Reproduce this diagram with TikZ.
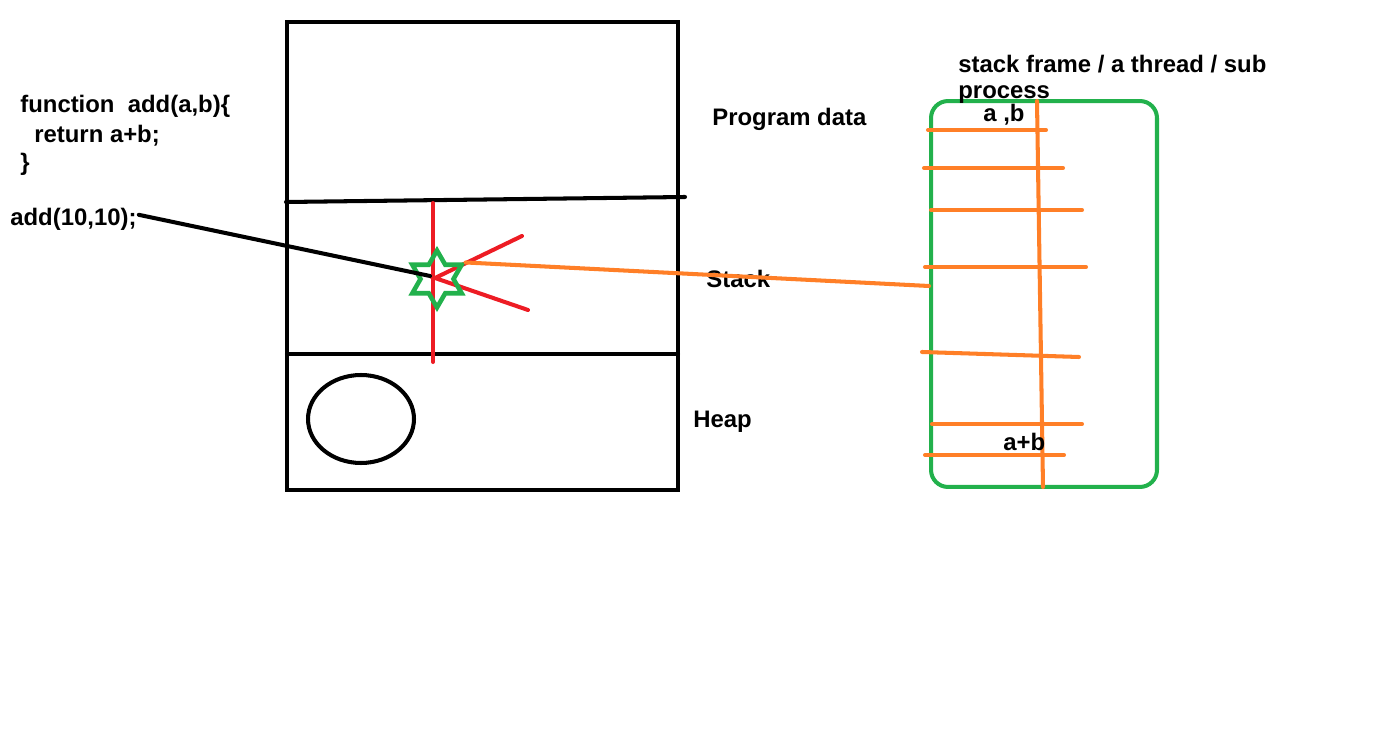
\documentclass[tikz,border=0pt]{standalone}
\usepackage{fontspec}
\setmainfont{Liberation Sans}
\usetikzlibrary{shapes.geometric}
\usetikzlibrary{calc}
\definecolor{verde}{HTML}{22B14C}
\definecolor{laranja}{HTML}{FF7F27}
\definecolor{vermelho}{HTML}{ED1C24}
\tikzset{traco/.style={color=#1,line width=2.3pt,line cap=round},traco/.default=black}
\tikzset{rotulo/.style={anchor=base west,inner sep=0pt,
	font=\fontsize{13.6}{16}\selectfont\bfseries}}

\begin{document}
\begin{tikzpicture}[x=0.02cm,y=-0.02cm]

	\useasboundingbox (0,0) rectangle (1387,736);

	% O codigo da funcao
	\node [rotulo] (funcao) at (20,113) {function\ \ add(a,b)\{};
	\node [rotulo] (retorno) at (34,143) {return a+b;};
	\node [rotulo] (fecho) at (20,171) {\}};
	\node [rotulo] (chamada) at (10,226) {add(10,10);};

	% A memoria do programa
	\draw [traco] (287,22) rectangle (678,490);
	\draw [traco] (286,202) -- (685,197);
	\draw [traco] (287,354) -- (678,354);
	\draw [traco] (361,419) ellipse (1.06cm and 0.88cm);

	% Rotulos "Program data", "Stack" e "Heap"
	\node [rotulo] (dados) at (712,126) {Program data};
	\node [rotulo] (pilha) at (706,288) {Stack};
	\node [rotulo] (heap) at (693,428) {Heap};

	% Os tracos vermelhos
	\draw [traco=vermelho] (433,203) -- (433,362);
	\draw [traco=vermelho] (522,236) -- (435,278) -- (528,310);

	% A estrela
	\node [star, star points=6, star point ratio=1.73, draw=verde,
		line width=2.6pt, minimum size=1.14cm, inner sep=0pt]
		(estrela) at (437,279) {};

	% O quadro "stack frame"
	\node [draw=verde, line width=2.3pt, rounded corners=0.34cm,
		minimum width=4.52cm, minimum height=7.72cm, inner sep=0pt]
		(quadro) at (1044,294) {};

	% Flecha da chamada
	\draw [traco] ($(chamada.east)+(2,-5)$) -- ($(estrela.center)+(-7,-3)$);

	% Ligacao da estrela ao quadro
	\draw [traco=laranja] (estrela.30) -- ($(quadro.west)+(0,-8)$);

	% Rotulo "stack frame / a thread / sub process"
	\node [rotulo] (quadro titulo) at (958,73) {stack frame / a thread / sub};
	\node [rotulo] (quadro titulo2) at (958,99) {process};

	% Os tracos laranja do quadro
	\draw [traco=laranja] (1037,101) -- (1043,487);
	\draw [traco=laranja] (928,130) -- (1046,130);
	\draw [traco=laranja] (924,168) -- (1063,168);
	\draw [traco=laranja] (931,210) -- (1082,210);
	\draw [traco=laranja] (925,267) -- (1086,267);
	\draw [traco=laranja] (922,352) -- (1079,357);
	\draw [traco=laranja] (932,424) -- (1082,424);
	\draw [traco=laranja] (925,455) -- (1064,455);

	% Rotulos "a ,b" e "a+b"
	\node [rotulo] (argumentos) at (983,122) {a ,b};
	\node [rotulo] (soma) at (1003,451) {a+b};

\end{tikzpicture}
\end{document}
